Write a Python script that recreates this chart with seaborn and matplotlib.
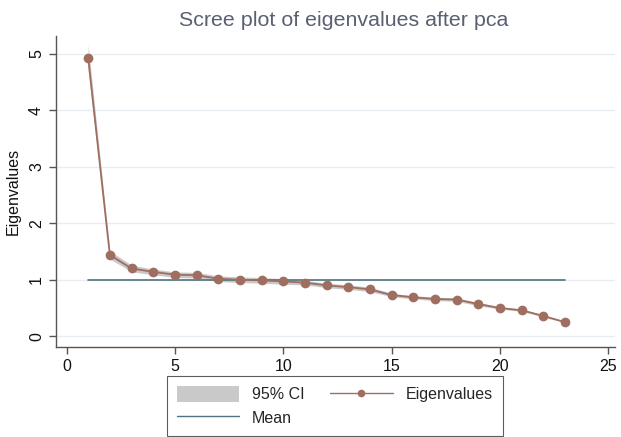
import numpy as np
import pandas as pd
import seaborn as sns
import matplotlib.pyplot as plt
from matplotlib.patches import Patch
from matplotlib.lines import Line2D

# eigenvalues
component = list(range(1, 24))
eigenvalues = [4.93, 1.44, 1.20, 1.14, 1.09, 1.08, 1.02, 1.00, 0.99, 0.97, 0.95, 0.90,
               0.87, 0.83, 0.73, 0.69, 0.66, 0.65, 0.57, 0.50, 0.46, 0.36, 0.25]
ci_low = [4.70, 1.37, 1.14, 1.09, 1.04, 1.03, 0.97, 0.95, 0.94, 0.92, 0.91, 0.86,
          0.83, 0.79, 0.70, 0.66, 0.63, 0.62, 0.54, 0.48, 0.44, 0.34, 0.24]
ci_high = [5.16, 1.51, 1.26, 1.19, 1.14, 1.13, 1.07, 1.05, 1.04, 1.02, 0.99, 0.94,
           0.91, 0.87, 0.76, 0.72, 0.69, 0.68, 0.60, 0.52, 0.48, 0.38, 0.26]
mean_x = [1, 23]
mean_y = [1, 1]

sns.set_theme(style='white')
plt.rcParams['font.family'] = ['Liberation Sans', 'DejaVu Sans']

eig_col = '#a06e60'
mean_col = '#4f7380'
ci_col = '#c9c9c9'
grid_col = '#e6edf3'

df = pd.DataFrame({'component': component, 'eig': eigenvalues})
df_mean = pd.DataFrame({'x': mean_x, 'y': mean_y})

fig = plt.figure(figsize=(6.21, 4.37), dpi=100)
ax = fig.add_axes([0.090, 0.206, 0.900, 0.712])

ax.fill_between(component, ci_low, ci_high, color=ci_col, lw=0, zorder=1)
sns.lineplot(data=df_mean, x='x', y='y', ax=ax, color=mean_col, lw=1.2, zorder=2)
sns.lineplot(data=df, x='component', y='eig', ax=ax, color=eig_col, lw=1.3,
             marker='o', markersize=7, markeredgewidth=0, zorder=3)

ax.set_xlim(-0.49, 25.3)
ax.set_ylim(-0.19, 5.32)
ax.set_xticks([0, 5, 10, 15, 20, 25])
ax.set_yticks([0, 1, 2, 3, 4, 5])
ax.yaxis.grid(True, color=grid_col, lw=1)
ax.set_axisbelow(True)
for s in ['top', 'right']:
    ax.spines[s].set_visible(False)
for s in ['left', 'bottom']:
    ax.spines[s].set_color('#555555')
    ax.spines[s].set_linewidth(1)
ax.tick_params(axis='both', which='both', length=5, width=1, color='#555555',
               labelsize=11.5, labelcolor='#111111', left=True, bottom=True)
plt.setp(ax.get_yticklabels(), rotation=90, va='center')
ax.set_xlabel('')
ax.set_ylabel('Eigenvalues', fontsize=11.5, color='#111111', labelpad=6)
fig.text(0.553, 0.953, 'Scree plot of eigenvalues after pca', fontsize=15.4,
         color='#5a6072', ha='center', va='center')

handles = [Patch(facecolor=ci_col, edgecolor='none'),
           Line2D([], [], color=mean_col, lw=1.0),
           Line2D([], [], color=eig_col, lw=1.0, marker='o', markersize=5.5, markeredgewidth=0)]
labels = ['95% CI', 'Mean', 'Eigenvalues']
leg = fig.legend(handles, labels, ncol=2, loc='lower center', bbox_to_anchor=(0.539, 0.002),
                 fontsize=11.5, frameon=True, fancybox=False, edgecolor='#333333',
                 handlelength=3.9, handleheight=1.1, columnspacing=1.6,
                 labelspacing=0.45, borderpad=0.65, handletextpad=0.8,
                 borderaxespad=0)
leg.get_frame().set_linewidth(0.8)

fig.savefig('out.png', dpi=100)
